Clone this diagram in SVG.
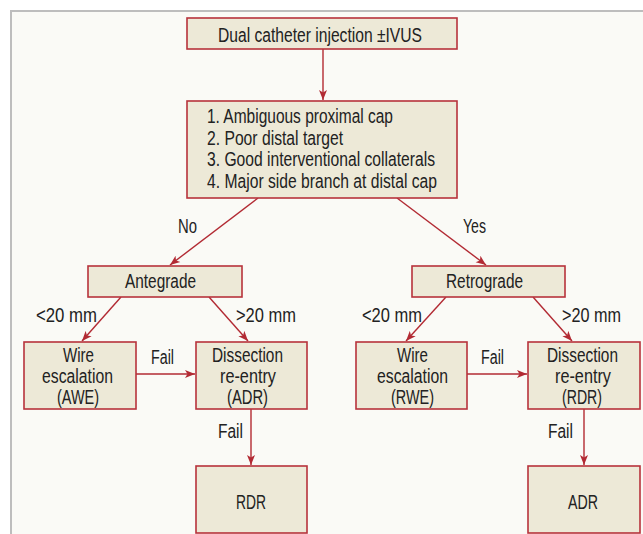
<svg xmlns="http://www.w3.org/2000/svg" width="643" height="534" viewBox="0 0 643 534">
<defs>
<marker id="ah" markerUnits="userSpaceOnUse" markerWidth="10" markerHeight="10" viewBox="0 0 10 10" refX="10" refY="5" orient="auto">
<path d="M0,1 L10,5 L0,9 L2.5,5 Z" fill="#b22a33"/>
</marker>
</defs>
<style>
.box{fill:#ede9d7;stroke:#b7323b;stroke-width:1.6}
.t{font-family:"Liberation Sans",Arial,sans-serif;font-size:20px;fill:#222222}
.ln{stroke:#b22a33;stroke-width:1.4;fill:none;marker-end:url(#ah)}
</style>
<rect x="0" y="0" width="643" height="534" fill="#ffffff"/>
<rect x="11" y="11" width="645" height="540" fill="#fafaf6" stroke="#bdbdbd" stroke-width="2"/>

<g id="connectors">
<line class="ln" x1="323" y1="49" x2="323" y2="100"/>
<line class="ln" x1="258" y1="198" x2="170" y2="265"/>
<line class="ln" x1="397" y1="198" x2="486" y2="265"/>
<line class="ln" x1="121" y1="297" x2="82" y2="341"/>
<line class="ln" x1="209" y1="297" x2="248" y2="341"/>
<line class="ln" x1="446" y1="297" x2="406" y2="341"/>
<line class="ln" x1="533" y1="297" x2="572" y2="341"/>
<line class="ln" x1="136" y1="374" x2="195" y2="374"/>
<line class="ln" x1="467" y1="374" x2="527" y2="374"/>
<line class="ln" x1="251" y1="409" x2="251" y2="465"/>
<line class="ln" x1="584" y1="409" x2="584" y2="465"/>
<text class="t" x="178" y="233" textLength="19" lengthAdjust="spacingAndGlyphs">No</text>
<text class="t" x="463" y="233" textLength="23" lengthAdjust="spacingAndGlyphs">Yes</text>
<text class="t" x="36" y="322" textLength="61" lengthAdjust="spacingAndGlyphs">&lt;20 mm</text>
<text class="t" x="236" y="322" textLength="60" lengthAdjust="spacingAndGlyphs">&gt;20 mm</text>
<text class="t" x="362" y="322" textLength="60" lengthAdjust="spacingAndGlyphs">&lt;20 mm</text>
<text class="t" x="562" y="322" textLength="59" lengthAdjust="spacingAndGlyphs">&gt;20 mm</text>
<text class="t" x="151" y="364" textLength="23" lengthAdjust="spacingAndGlyphs">Fail</text>
<text class="t" x="481" y="364" textLength="23" lengthAdjust="spacingAndGlyphs">Fail</text>
<text class="t" x="218" y="438" textLength="25" lengthAdjust="spacingAndGlyphs">Fail</text>
<text class="t" x="548" y="438" textLength="25" lengthAdjust="spacingAndGlyphs">Fail</text>
</g>

<g id="start">
<rect class="box" x="187" y="18" width="270" height="31"/>
<text class="t" x="218" y="42" textLength="204" lengthAdjust="spacingAndGlyphs">Dual catheter injection ±IVUS</text>
</g>

<g id="criteria">
<rect class="box" x="187" y="101" width="270" height="97"/>
<text class="t" x="207" y="123" textLength="186" lengthAdjust="spacingAndGlyphs">1. Ambiguous proximal cap</text>
<text class="t" x="207" y="144.5" textLength="136" lengthAdjust="spacingAndGlyphs">2. Poor distal target</text>
<text class="t" x="207" y="166" textLength="228" lengthAdjust="spacingAndGlyphs">3. Good interventional collaterals</text>
<text class="t" x="207" y="187.5" textLength="230" lengthAdjust="spacingAndGlyphs">4. Major side branch at distal cap</text>
</g>

<g id="antegrade">
<rect class="box" x="88" y="266" width="154" height="31"/>
<text class="t" x="125" y="288" textLength="71" lengthAdjust="spacingAndGlyphs">Antegrade</text>
</g>

<g id="retrograde">
<rect class="box" x="412" y="266" width="153" height="31"/>
<text class="t" x="446" y="288" textLength="77" lengthAdjust="spacingAndGlyphs">Retrograde</text>
</g>

<g id="awe">
<rect class="box" x="24" y="342" width="112" height="67"/>
<text class="t" x="63" y="362" textLength="31" lengthAdjust="spacingAndGlyphs">Wire</text>
<text class="t" x="42" y="383" textLength="71" lengthAdjust="spacingAndGlyphs">escalation</text>
<text class="t" x="57" y="404" textLength="42" lengthAdjust="spacingAndGlyphs">(AWE)</text>
</g>

<g id="adr1">
<rect class="box" x="196" y="342" width="111" height="67"/>
<text class="t" x="212" y="362" textLength="71" lengthAdjust="spacingAndGlyphs">Dissection</text>
<text class="t" x="220" y="383" textLength="56" lengthAdjust="spacingAndGlyphs">re-entry</text>
<text class="t" x="227" y="404" textLength="41" lengthAdjust="spacingAndGlyphs">(ADR)</text>
</g>

<g id="rwe">
<rect class="box" x="356" y="342" width="111" height="67"/>
<text class="t" x="397" y="362" textLength="31" lengthAdjust="spacingAndGlyphs">Wire</text>
<text class="t" x="377" y="383" textLength="71" lengthAdjust="spacingAndGlyphs">escalation</text>
<text class="t" x="391" y="404" textLength="43" lengthAdjust="spacingAndGlyphs">(RWE)</text>
</g>

<g id="rdr1">
<rect class="box" x="528" y="342" width="112" height="67"/>
<text class="t" x="547" y="362" textLength="71" lengthAdjust="spacingAndGlyphs">Dissection</text>
<text class="t" x="555" y="383" textLength="56" lengthAdjust="spacingAndGlyphs">re-entry</text>
<text class="t" x="562" y="404" textLength="40" lengthAdjust="spacingAndGlyphs">(RDR)</text>
</g>

<g id="rdr2">
<rect class="box" x="196" y="466" width="111" height="67"/>
<text class="t" x="236" y="509" textLength="30" lengthAdjust="spacingAndGlyphs">RDR</text>
</g>

<g id="adr2">
<rect class="box" x="528" y="466" width="112" height="67"/>
<text class="t" x="568" y="509" textLength="30" lengthAdjust="spacingAndGlyphs">ADR</text>
</g>
</svg>
